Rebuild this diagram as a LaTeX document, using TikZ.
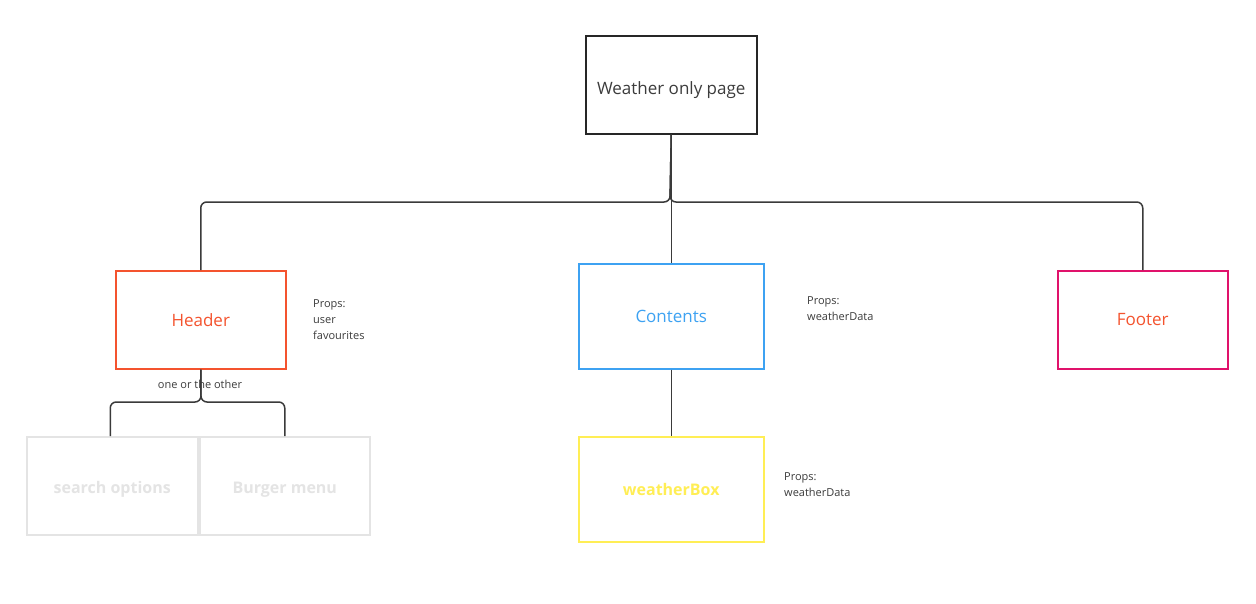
\documentclass[tikz,border=0pt]{standalone}
\usepackage{fontspec}
\setmainfont{Open Sans}
\definecolor{lineg}{HTML}{3A3A3A}
\definecolor{hdr}{HTML}{F4532E}
\definecolor{cont}{HTML}{3DA2F2}
\definecolor{foot}{HTML}{E0126B}
\definecolor{wbox}{HTML}{FFEE55}
\definecolor{lgray}{HTML}{E4E4E4}
\definecolor{txtg}{HTML}{3C3C3C}
\newcommand{\lowr}[2]{\raisebox{#1}[0pt][0pt]{#2}}
\begin{document}
\begin{tikzpicture}[x=1pt,y=-1pt,
  box/.style={draw,line width=1.5pt,minimum width=#1,inner sep=0pt,anchor=north west},
  lbl/.style={font=\fontsize{17}{20}\selectfont},
  lblb/.style={font=\fontsize{16}{20}\fontseries{sb}\selectfont},
  conn/.style={draw=lineg,line width=1.5pt,rounded corners=6pt},
  props/.style={anchor=north west,align=left,font=\fontsize{11}{16}\selectfont,text=txtg,inner sep=0pt}]
\useasboundingbox[fill=white] (0,0) rectangle (1256,603);
\node[box=171pt,minimum height=98pt,draw=black!85,text=txtg,lbl] (top) at (585,35) {\lowr{-10pt}{Weather only page}};
\node[box=170pt,minimum height=98pt,draw=hdr,text=hdr,lbl] (header) at (115,270) {Header};
\node[box=185pt,minimum height=105pt,draw=cont,text=cont,lbl] (contents) at (578,263) {Contents};
\node[box=170pt,minimum height=98pt,draw=foot,text=hdr,lbl] (footer) at (1057,270) {Footer};
\node[box=185pt,minimum height=105pt,draw=wbox,text=wbox,lblb] (wbox) at (578,436) {weatherBox};
\node[box=171pt,minimum height=98pt,draw=lgray,text=lgray,lblb] (search) at (26,436) {\lowr{-8pt}{search options}};
\node[box=170pt,minimum height=98pt,draw=lgray,text=lgray,lblb] (burger) at (199,436) {\lowr{-8pt}{Burger menu}};
\coordinate (j1) at (670,202);
\coordinate (j2) at (201,402);
\draw[conn] (top.south) -- (j1) -| (header.north);
\draw[conn] (top.south) -- (j1) -| (footer.north);
\draw[conn] (top.south) -- (contents.north);
\draw[conn] (header.south) -- (j2) -| ([xshift=-2pt]search.north);
\draw[conn] (header.south) -- (j2) -| (burger.north);
\draw[conn] (contents.south) -- (wbox.north);
\node[font=\fontsize{11}{13}\selectfont,text=txtg,inner sep=1pt] (oot) at (200,384) {one or the other};
\node[props] (p1) at (313,299) {Props:\\user\\favourites};
\node[props] (p2) at (807,296) {Props:\\weatherData};
\node[props] (p3) at (784,472) {Props:\\weatherData};
\end{tikzpicture}
\end{document}
